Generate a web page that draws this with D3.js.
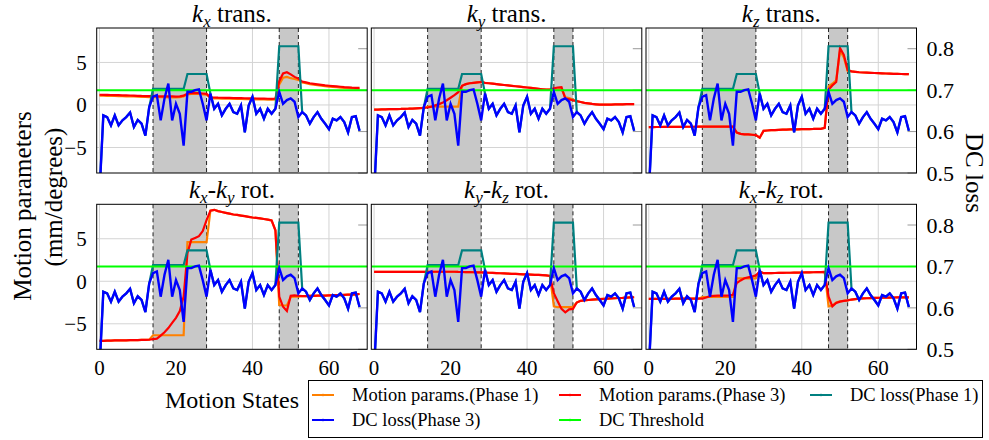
<!DOCTYPE html>
<html>
<head>
<meta charset="utf-8">
<script src="https://cdn.jsdelivr.net/npm/d3@7"></script>
<style>
  body { margin: 0; background: #fff; }
  text { font-family: "Liberation Serif", serif; }
</style>
</head>
<body>
<svg width="989" height="440" font-family="Liberation Serif"></svg>
<script>
// motion states 0..68
const states = d3.range(69);

// DC loss, same curve in every panel
const dcPhase3 = [0.45,0.639,0.635,0.615,0.639,0.615,0.627,0.635,0.646,0.611,0.628,0.619,0.590,0.659,
  0.684,0.688,0.627,0.680,0.716,0.627,0.667,0.643,0.566,0.696,0.696,0.700,0.702,0.667,0.627,
  0.692,0.655,0.667,0.639,0.655,0.667,0.647,0.643,0.663,0.598,0.663,0.684,0.643,0.655,0.631,0.655,0.643,0.655,
  0.696,0.667,0.676,0.680,0.672,0.635,
  0.647,0.639,0.619,0.635,0.647,0.631,0.619,0.606,0.631,0.627,0.635,0.623,0.598,0.635,0.637,0.602];
const dcPhase1 = [0.45,0.639,0.635,0.615,0.639,0.615,0.627,0.635,0.646,0.611,0.628,0.619,0.590,0.659,
  0.703,0.703,0.703,0.703,0.703,0.703,0.703,0.703,0.703,0.739,0.739,0.739,0.739,0.739,0.739,
  0.692,0.655,0.667,0.639,0.655,0.667,0.647,0.643,0.663,0.598,0.663,0.684,0.643,0.655,0.631,0.655,0.643,0.655,
  0.806,0.806,0.806,0.806,0.806,0.806,
  0.647,0.639,0.619,0.635,0.647,0.631,0.619,0.606,0.631,0.627,0.635,0.623,0.598,0.635,0.637,0.602];
const dcThreshold = 0.7;

// motion parameters, phase 3 (red) and phase 1 (orange)
const kxTransP3 = [1.20,1.19,1.18,1.17,1.16,1.15,1.13,1.12,1.11,1.10,1.08,1.06,1.05,1.03,
  1.03,1.02,1.02,1.01,1.00,1.00,0.99,1.02,1.10,1.35,1.40,1.42,1.40,1.35,1.30,
  0.90,0.88,0.86,0.85,0.84,0.83,0.82,0.81,0.80,0.79,0.78,0.77,0.76,0.75,0.74,0.73,0.72,0.75,
  2.80,3.70,3.85,3.60,3.30,3.10,
  2.75,2.65,2.55,2.48,2.42,2.36,2.30,2.26,2.22,2.18,2.14,2.10,2.07,2.04,2.02,2.00];
const kxTransP1 = [1.10,1.09,1.08,1.07,1.06,1.05,1.03,1.02,1.01,1.00,0.98,0.96,0.95,0.93,
  0.93,0.92,0.92,0.91,0.90,0.90,0.89,0.92,1.00,1.25,1.30,1.32,1.30,1.25,1.20,
  0.80,0.78,0.76,0.75,0.74,0.73,0.72,0.71,0.70,0.69,0.68,0.67,0.66,0.65,0.64,0.63,0.62,0.65,
  2.40,3.20,3.30,3.15,3.05,2.95,
  2.65,2.55,2.45,2.38,2.32,2.26,2.20,2.16,2.12,2.08,2.04,2.00,1.97,1.94,1.92,1.90];

const kyTransP3 = [-0.55,-0.54,-0.53,-0.52,-0.50,-0.49,-0.48,-0.47,-0.45,-0.44,-0.42,-0.40,-0.38,-0.35,
  -0.30,-0.20,-0.05,0.10,0.30,0.55,0.85,1.15,1.50,2.25,2.45,2.55,2.60,2.65,2.70,
  2.60,2.55,2.50,2.45,2.40,2.35,2.30,2.25,2.20,2.15,2.10,2.05,2.00,1.95,1.90,1.85,1.80,1.80,
  1.95,2.05,2.10,0.75,0.65,0.55,
  0.45,0.35,0.25,0.18,0.12,0.08,0.05,0.05,0.05,0.05,0.06,0.07,0.08,0.09,0.10,0.10];
const kyTransP1 = [-0.55,-0.54,-0.53,-0.52,-0.50,-0.49,-0.48,-0.47,-0.45,-0.44,-0.42,-0.40,-0.38,-0.35,
  -0.20,-0.20,-0.20,-0.20,-0.20,-0.20,-0.20,-0.20,-0.20,2.25,2.45,2.55,2.60,2.65,2.70,
  2.60,2.55,2.50,2.45,2.40,2.35,2.30,2.25,2.20,2.15,2.10,2.05,2.00,1.95,1.90,1.85,1.80,1.80,
  1.75,1.85,1.90,0.90,0.80,0.60,
  0.45,0.35,0.25,0.18,0.12,0.08,0.05,0.05,0.05,0.05,0.06,0.07,0.08,0.09,0.10,0.10];

const kzTransP3 = [-2.60,-2.60,-2.59,-2.59,-2.58,-2.58,-2.58,-2.57,-2.57,-2.57,-2.56,-2.56,-2.56,-2.55,
  -2.55,-2.55,-2.55,-2.55,-2.55,-2.55,-2.55,-2.55,-2.55,-3.25,-3.40,-3.45,-3.45,-3.50,-3.55,
  -3.85,-3.05,-3.00,-2.95,-2.95,-2.92,-2.90,-2.90,-2.88,-2.87,-2.86,-2.85,-2.84,-2.83,-2.82,-2.80,-2.80,-2.70,
  1.80,2.30,2.70,6.70,5.90,4.10,
  3.95,3.90,3.85,3.82,3.80,3.78,3.76,3.74,3.72,3.70,3.68,3.66,3.65,3.64,3.63,3.62];
const kzTransP1 = [-2.60,-2.60,-2.59,-2.59,-2.58,-2.58,-2.58,-2.57,-2.57,-2.57,-2.56,-2.56,-2.56,-2.55,
  -2.55,-2.55,-2.55,-2.55,-2.55,-2.55,-2.55,-2.55,-2.55,-3.25,-3.40,-3.45,-3.45,-3.50,-3.55,
  -3.85,-3.05,-3.00,-2.95,-2.95,-2.92,-2.90,-2.90,-2.88,-2.87,-2.86,-2.85,-2.84,-2.83,-2.82,-2.80,-2.80,-2.70,
  2.20,2.50,2.90,6.40,5.60,4.00,
  3.95,3.90,3.85,3.82,3.80,3.78,3.76,3.74,3.72,3.70,3.68,3.66,3.65,3.64,3.63,3.62];

const kxkyRotP3 = [-7.00,-7.00,-6.98,-6.97,-6.96,-6.95,-6.95,-6.94,-6.93,-6.92,-6.91,-6.90,-6.90,-6.88,
  -6.80,-6.75,-6.40,-6.00,-5.50,-4.90,-4.30,-3.50,-1.80,3.30,4.90,5.10,5.30,5.90,7.20,
  8.30,8.40,8.25,8.15,8.05,7.95,7.85,7.80,7.72,7.65,7.58,7.50,7.45,7.40,7.32,7.25,7.15,6.00,
  -1.80,-3.00,-3.50,-1.70,-1.65,-1.70,
  -1.75,-1.75,-1.72,-1.72,-1.70,-1.70,-1.68,-1.66,-1.65,-1.63,-1.62,-1.60,-1.58,-1.56,-1.55,-1.50];
const kxkyRotP1 = [-7.00,-7.00,-6.98,-6.97,-6.96,-6.95,-6.95,-6.94,-6.93,-6.92,-6.91,-6.90,-6.90,-6.88,
  -6.35,-6.35,-6.35,-6.35,-6.35,-6.35,-6.35,-6.35,-6.35,4.60,4.60,4.60,4.60,4.60,4.60,
  8.30,8.40,8.25,8.15,8.05,7.95,7.85,7.80,7.72,7.65,7.58,7.50,7.45,7.40,7.32,7.25,7.15,6.00,
  -2.80,-2.85,-2.85,-1.85,-1.80,-1.80,
  -1.75,-1.75,-1.72,-1.72,-1.70,-1.70,-1.68,-1.66,-1.65,-1.63,-1.62,-1.60,-1.58,-1.56,-1.55,-1.50];

const kykzRotP3 = [1.10,1.10,1.10,1.10,1.10,1.10,1.10,1.10,1.11,1.11,1.11,1.11,1.11,1.11,
  1.12,1.12,1.12,1.12,1.12,1.12,1.12,1.12,1.10,1.09,1.08,1.07,1.06,1.05,1.04,
  1.02,1.00,0.98,0.96,0.94,0.92,0.90,0.88,0.86,0.84,0.82,0.80,0.78,0.76,0.74,0.72,0.70,0.62,
  -1.40,-2.35,-3.25,-3.65,-3.30,-3.25,
  -2.50,-2.30,-2.25,-2.20,-2.17,-2.14,-2.11,-2.08,-2.05,-2.02,-2.00,-1.97,-1.95,-1.92,-1.90,-1.88];
const kykzRotP1 = [1.10,1.10,1.10,1.10,1.10,1.10,1.10,1.10,1.11,1.11,1.11,1.11,1.11,1.11,
  1.12,1.12,1.12,1.12,1.12,1.12,1.12,1.12,1.10,1.09,1.08,1.07,1.06,1.05,1.04,
  1.02,1.00,0.98,0.96,0.94,0.92,0.90,0.88,0.86,0.84,0.82,0.80,0.78,0.76,0.74,0.72,0.70,0.62,
  -2.95,-3.05,-3.05,-3.05,-3.05,-3.00,
  -2.50,-2.30,-2.25,-2.20,-2.17,-2.14,-2.11,-2.08,-2.05,-2.02,-2.00,-1.97,-1.95,-1.92,-1.90,-1.88];

const kxkzRotP3 = [-2.07,-2.07,-2.07,-2.06,-2.06,-2.06,-2.06,-2.05,-2.05,-2.05,-2.05,-2.05,-2.05,-2.05,
  -2.05,-1.90,-1.75,-1.72,-1.70,-1.70,-1.68,-1.66,-1.60,-0.20,0.10,0.35,0.45,0.55,0.70,
  1.15,0.95,0.95,0.96,0.97,0.98,0.99,1.00,1.00,1.01,1.02,1.03,1.04,1.05,1.06,1.07,1.08,1.10,
  -1.80,-2.95,-2.55,-2.40,-2.30,-2.25,
  -2.15,-2.10,-2.05,-2.02,-2.00,-1.98,-1.96,-1.95,-1.94,-1.93,-1.92,-1.91,-1.90,-1.90,-1.90,-1.90];
const kxkzRotP1 = [-2.07,-2.07,-2.07,-2.06,-2.06,-2.06,-2.06,-2.05,-2.05,-2.05,-2.05,-2.05,-2.05,-2.05,
  -1.85,-1.85,-1.85,-1.85,-1.85,-1.85,-1.85,-1.85,-1.85,0.35,0.35,0.35,0.35,0.35,0.35,
  1.15,0.95,0.95,0.96,0.97,0.98,0.99,1.00,1.00,1.01,1.02,1.03,1.04,1.05,1.06,1.07,1.08,1.10,
  -2.95,-2.85,-2.50,-2.35,-2.30,-2.25,
  -2.15,-2.10,-2.05,-2.02,-2.00,-1.98,-1.96,-1.95,-1.94,-1.93,-1.92,-1.91,-1.90,-1.90,-1.90,-1.90];

// titles: subscripts of k, then the word
const titleSubs = [["x"], ["y"], ["z"], ["x","y"], ["y","z"], ["x","z"]];
const titleWords = ["trans.", "trans.", "trans.", "rot.", "rot.", "rot."];

// shaded phases and ticks
const phaseSpans = [[14, 28], [47, 52]];
const xTicks = [0, 20, 40, 60];
const yTicksLeft = [-5, 0, 5];
const yTicksRight = [0.5, 0.6, 0.7, 0.8];

const legendNames = ["Motion params.(Phase 1)", "Motion params.(Phase 3)", "DC loss(Phase 1)",
                     "DC loss(Phase 3)", "DC Threshold"];
const colors = {p1: "#ff8000", p3: "#ff0000", dc1: "#008080", dc3: "#0000ff", thr: "#00ff00"};
const legendColors = [colors.p1, colors.p3, colors.dc1, colors.dc3, colors.thr];

const panels = [
  {p3: kxTransP3, p1: kxTransP1}, {p3: kyTransP3, p1: kyTransP1}, {p3: kzTransP3, p1: kzTransP1},
  {p3: kxkyRotP3, p1: kxkyRotP1}, {p3: kykzRotP3, p1: kykzRotP1}, {p3: kxkzRotP3, p1: kxkzRotP1}
];

const FONT = "Liberation Serif";
const svg = d3.select("svg");

// layout
const W = 270.5, H = 145;
const colX = [96.7, 371.3, 646];
const rowY = [28, 204.3];

const x = d3.scaleLinear().domain([-0.73, 70]).range([0, W]);
const yL = d3.scaleLinear().domain([-8, 9.05]).range([H, 0]);
const yR = d3.scaleLinear().domain([0.5, 0.85]).range([H, 0]);

const lineL = d3.line().x((d, i) => x(states[i])).y(d => yL(d));
const lineR = d3.line().x((d, i) => x(states[i])).y(d => yR(d));

panels.forEach((p, i) => {
  const r = Math.floor(i / 3), c = i % 3;
  const g = svg.append("g").attr("transform", `translate(${colX[c]},${rowY[r]})`);

  g.append("clipPath").attr("id", "clip" + i)
    .append("rect").attr("width", W).attr("height", H);

  // grid
  g.selectAll(".gx").data(xTicks).join("line")
    .attr("x1", d => x(d)).attr("x2", d => x(d))
    .attr("y1", 0).attr("y2", H)
    .attr("stroke", "#d4d4d4").attr("stroke-width", 1);
  g.selectAll(".gy").data(yTicksLeft).join("line")
    .attr("x1", 0).attr("x2", W)
    .attr("y1", d => yL(d)).attr("y2", d => yL(d))
    .attr("stroke", "#d4d4d4").attr("stroke-width", 1);

  // right axis tick marks
  g.selectAll(".tr").data(yTicksRight).join("line")
    .attr("x1", W - 9).attr("x2", W)
    .attr("y1", d => yR(d)).attr("y2", d => yR(d))
    .attr("stroke", "#9a9a9a").attr("stroke-width", 1);

  // shaded phases
  g.selectAll(".span").data(phaseSpans).join("rect")
    .attr("x", d => x(d[0])).attr("width", d => x(d[1]) - x(d[0]))
    .attr("y", 0).attr("height", H)
    .attr("fill", "#c8c8c8");
  g.selectAll(".dash").data(phaseSpans.flat()).join("line")
    .attr("x1", d => x(d)).attr("x2", d => x(d))
    .attr("y1", 0).attr("y2", H)
    .attr("stroke", "#222").attr("stroke-width", 1)
    .attr("stroke-dasharray", "4,3");

  const plot = g.append("g").attr("clip-path", `url(#clip${i})`);

  plot.append("path").attr("d", lineL(p.p1))
    .attr("fill", "none").attr("stroke", colors.p1).attr("stroke-width", 2.2);
  plot.append("path").attr("d", lineL(p.p3))
    .attr("fill", "none").attr("stroke", colors.p3).attr("stroke-width", 2.2);

  plot.append("path").attr("d", lineR(dcPhase1))
    .attr("fill", "none").attr("stroke", colors.dc1).attr("stroke-width", 2.2);
  plot.append("line")
    .attr("x1", 0).attr("x2", W)
    .attr("y1", yR(dcThreshold)).attr("y2", yR(dcThreshold))
    .attr("stroke", colors.thr).attr("stroke-width", 2);
  plot.append("path").attr("d", lineR(dcPhase3))
    .attr("fill", "none").attr("stroke", colors.dc3).attr("stroke-width", 2.4);

  // frame
  g.append("rect").attr("width", W).attr("height", H)
    .attr("fill", "none").attr("stroke", "#000").attr("stroke-width", 1);

  // title  k_x trans.
  const t = g.append("text")
    .attr("x", W / 2).attr("y", -6)
    .attr("text-anchor", "middle")
    .attr("font-family", FONT)
    .attr("font-size", 25);
  titleSubs[i].forEach((s, j) => {
    if (j > 0) t.append("tspan").attr("dy", -5).text("-");
    t.append("tspan").attr("font-style", "italic").text("k");
    t.append("tspan").attr("font-style", "italic").attr("font-size", 17).attr("dy", 5).text(s);
  });
  t.append("tspan").attr("dy", -5).text("\u00a0" + titleWords[i]);

  // left tick labels
  if (c === 0) {
    g.selectAll(".tl").data(yTicksLeft).join("text")
      .attr("x", -10).attr("y", d => yL(d))
      .attr("dy", "0.35em")
      .attr("text-anchor", "end")
      .attr("font-family", FONT)
      .attr("font-size", 21)
      .text(d => d < 0 ? "\u2212" + Math.abs(d) : d);
  }
  // right tick labels
  if (c === 2) {
    g.selectAll(".trl").data(yTicksRight).join("text")
      .attr("x", W + 10).attr("y", d => yR(d))
      .attr("dy", "0.35em")
      .attr("font-family", FONT)
      .attr("font-size", 22)
      .text(d => d3.format(".1f")(d));
  }
  // x tick labels
  if (r === 1) {
    g.selectAll(".tx").data(xTicks).join("text")
      .attr("x", d => x(d)).attr("y", H + 26)
      .attr("text-anchor", "middle")
      .attr("font-family", FONT)
      .attr("font-size", 21)
      .text(d => d);
  }
});

// axis labels
svg.append("text")
  .attr("transform", "translate(31,206) rotate(-90)")
  .attr("text-anchor", "middle").attr("font-family", FONT).attr("font-size", 25)
  .text("Motion parameters");
svg.append("text")
  .attr("transform", "translate(62,197) rotate(-90)")
  .attr("text-anchor", "middle").attr("font-family", FONT).attr("font-size", 25)
  .text("(mm/degrees)");
svg.append("text")
  .attr("transform", "translate(966,173) rotate(90)")
  .attr("text-anchor", "middle").attr("font-family", FONT).attr("font-size", 25)
  .text("DC loss");
svg.append("text")
  .attr("x", 232).attr("y", 408)
  .attr("text-anchor", "middle").attr("font-family", FONT).attr("font-size", 24)
  .text("Motion States");

// legend
const legend = svg.append("g");
legend.append("rect")
  .attr("x", 308.5).attr("y", 380.5).attr("width", 674).attr("height", 57)
  .attr("fill", "#fff").attr("stroke", "#000").attr("stroke-width", 1);

const legX = [312, 559, 810];
const legY = [395, 420];
legendNames.forEach((name, k) => {
  const lx = legX[k % 3], ly = legY[Math.floor(k / 3)];
  legend.append("line")
    .attr("x1", lx).attr("x2", lx + 22)
    .attr("y1", ly).attr("y2", ly)
    .attr("stroke", legendColors[k]).attr("stroke-width", 2);
  legend.append("circle")
    .attr("cx", lx + 11).attr("cy", ly).attr("r", 1.3)
    .attr("fill", legendColors[k]);
  legend.append("text")
    .attr("x", lx + 40).attr("y", ly + 6)
    .attr("font-family", FONT)
    .attr("font-size", 18.5)
    .text(name);
});
</script>
</body>
</html>
